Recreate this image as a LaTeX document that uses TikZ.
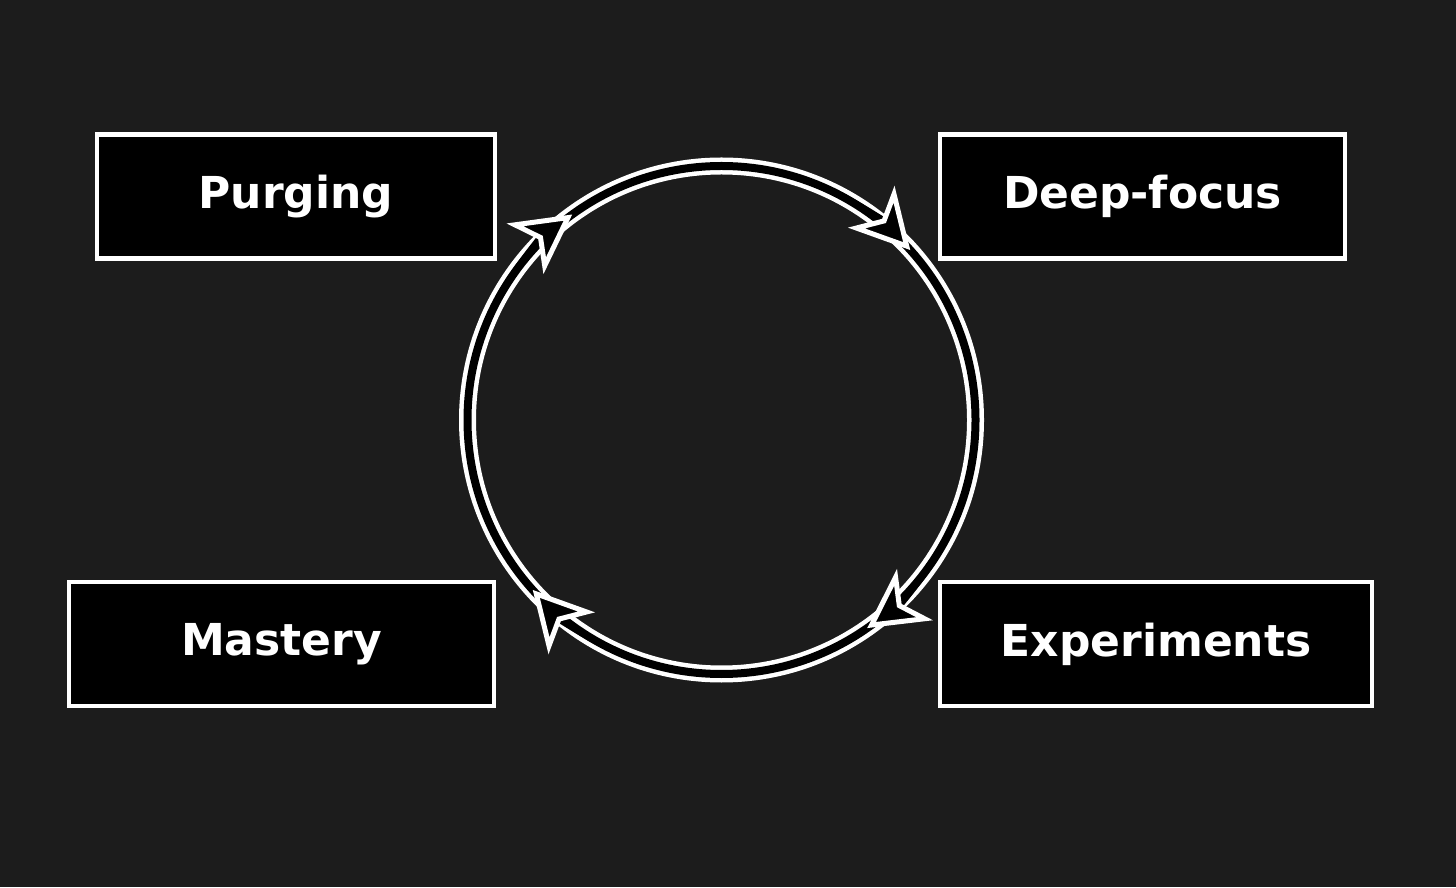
\documentclass[tikz,border=0pt]{standalone}
\usepackage{fontspec}
\setmainfont{DejaVu Sans}
\usepackage{tikz}
\usetikzlibrary{positioning, arrows.meta}
\definecolor{bgdark}{RGB}{28,28,28}

\begin{document}
\begin{tikzpicture}[x=1pt, y=1pt, node distance={447.5pt},
        box/.style = {draw=white, line width=4.5pt, fill=black, text=white, minimum height=124pt, inner sep=0pt, font=\bfseries\fontsize{44}{52}\selectfont},
        ring/.style = {draw=white, line width=4.5pt, double=black, double distance=8pt},
        tip/.style = {draw=black, line width=7pt, -{Stealth[length=58pt, width=62pt, inset=16pt, fill=black, color=white, line width=5pt]}}]
        \fill[bgdark] (0,0) rectangle (1456,887);
        \useasboundingbox (0,0) rectangle (1456,887);

        \node[box, minimum width=398pt] (purging) at (296,690.5) {Purging};
        \node[box, minimum width=405pt] (deepfocus) [right of=purging, xshift=399pt] {Deep-focus};
        \node[box, minimum width=425pt] (mastery) [below of=purging, xshift=-14.5pt] {Mastery};
        \node[box, minimum width=432pt] (experiments) [below of=deepfocus, xshift=13.5pt] {Experiments};

        \coordinate (c) at (721.5,467);
        \draw[ring] (c) circle (254);

        \draw[tip] ([shift={(150:254)}]c) arc[start angle=150, end angle=126, radius=254];
        \draw[tip] ([shift={(66:254)}]c) arc[start angle=66, end angle=42, radius=254];
        \draw[tip] ([shift={(-31:254)}]c) arc[start angle=-31, end angle=-55, radius=254];
        \draw[tip] ([shift={(246:254)}]c) arc[start angle=246, end angle=222, radius=254];
    \end{tikzpicture}
\end{document}
